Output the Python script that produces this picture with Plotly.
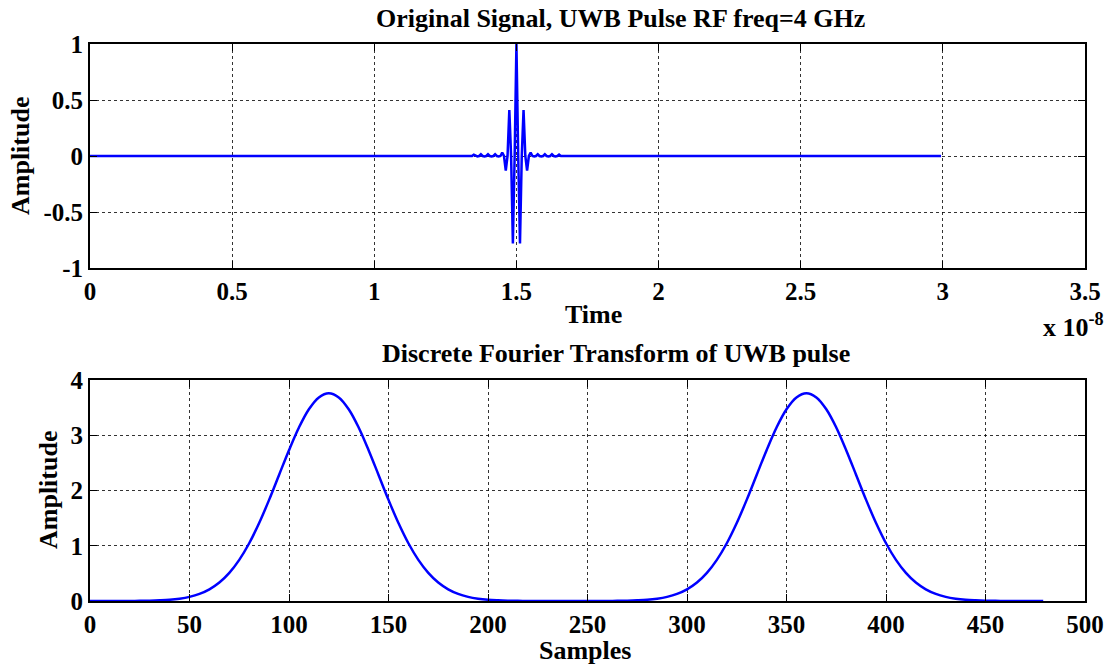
import plotly.graph_objects as go

# ---------------- data ----------------
# Top: UWB pulse samples (sample spacing 6.25e-11 s, 480 samples, centre sample 240)
dt = 6.25e-11
n_samples = 480
pulse_offsets = list(range(-26, 27))
pulse_values = [
    0.0, 0.0, 0.012, 0.0, -0.004, 0.0, 0.015, 0.0, -0.004, 0.0, 0.015, 0.0, -0.004, 0.0,
    0.015, 0.0, -0.004, 0.0, 0.03, 0.0, -0.13, 0.0, 0.41, 0.0, -0.78, 0.0,
    1.0,
    0.0, -0.78, 0.0, 0.41, 0.0, -0.13, 0.0, 0.03, 0.0, -0.004, 0.0, 0.015, 0.0,
    -0.004, 0.0, 0.015, 0.0, -0.004, 0.0, 0.015, 0.0, -0.004, 0.0, 0.012, 0.0, 0.0,
]
pulse_centre = 240

# Bottom: |DFT| of the pulse, read every 5 samples (0..475) plus the last sample 479
dft_samples = list(range(0, 480, 5)) + [479]
dft_values = [
    # n = 0 .. 240
    0.0, 0.0, 0.0, 0.0, 0.001, 0.003, 0.006, 0.012, 0.022, 0.042,
    0.075, 0.128, 0.211, 0.334, 0.509, 0.745, 1.045, 1.411, 1.830, 2.281,
    2.730, 3.141, 3.471, 3.685, 3.760, 3.685, 3.471, 3.141, 2.730, 2.281,
    1.830, 1.411, 1.045, 0.745, 0.509, 0.334, 0.211, 0.128, 0.075, 0.042,
    0.022, 0.012, 0.006, 0.003, 0.001, 0.0, 0.0, 0.0, 0.0,
    # n = 245 .. 475
    0.0, 0.0, 0.0, 0.001, 0.003, 0.006, 0.012, 0.022, 0.042,
    0.075, 0.128, 0.211, 0.334, 0.509, 0.745, 1.045, 1.411, 1.830, 2.281,
    2.730, 3.141, 3.471, 3.685, 3.760, 3.685, 3.471, 3.141, 2.730, 2.281,
    1.830, 1.411, 1.045, 0.745, 0.509, 0.334, 0.211, 0.128, 0.075, 0.042,
    0.022, 0.012, 0.006, 0.003, 0.001, 0.0, 0.0, 0.0,
    # n = 479
    0.0,
]

top_xticks = [0, 0.5e-8, 1.0e-8, 1.5e-8, 2.0e-8, 2.5e-8, 3.0e-8, 3.5e-8]
top_xtext = ["0", "0.5", "1", "1.5", "2", "2.5", "3", "3.5"]
top_yticks = [-1, -0.5, 0, 0.5, 1]
top_ytext = ["-1", "-0.5", "0", "0.5", "1"]
bot_xticks = [0, 50, 100, 150, 200, 250, 300, 350, 400, 450, 500]
bot_yticks = [0, 1, 2, 3, 4]

# ---------------- build series ----------------
t_idx = [0] + [pulse_centre + k for k in pulse_offsets] + [n_samples - 1]
t_vals = [0.0] + pulse_values + [0.0]
t = [i * dt for i in t_idx]

FONT = "Liberation Serif"
BLUE = "rgb(0,0,255)"

fig = go.Figure()
fig.add_trace(go.Scatter(x=t, y=t_vals, mode="lines",
                         line=dict(color=BLUE, width=2.5), xaxis="x", yaxis="y",
                         showlegend=False, hoverinfo="skip"))
fig.add_trace(go.Scatter(x=dft_samples, y=dft_values, mode="lines",
                         line=dict(color=BLUE, width=2.5, shape="spline", smoothing=1.0),
                         xaxis="x2", yaxis="y2", showlegend=False, hoverinfo="skip"))

W, H = 1115, 667
xd = [90 / W, 1085 / W]
top_dom = [1 - 268 / H, 1 - 44 / H]
bot_dom = [1 - 601 / H, 1 - 380 / H]

tickfont = dict(family=FONT, size=25, color="black", weight="bold")
common = dict(showline=True, linecolor="black", linewidth=1.8, mirror="ticks",
              ticks="inside", ticklen=7, tickcolor="black", tickwidth=1,
              showgrid=True, gridcolor="rgba(0,0,0,0.8)", griddash="dot", gridwidth=1,
              zeroline=False, tickfont=tickfont, automargin=False)

fig.update_layout(
    width=W, height=H, margin=dict(l=0, r=0, t=0, b=0, autoexpand=False),
    paper_bgcolor="white", plot_bgcolor="white",
    font=dict(family=FONT, size=25, color="black"),
    xaxis=dict(domain=xd, anchor="y", range=[0, 3.5e-8], tickvals=top_xticks, ticktext=top_xtext, **common),
    yaxis=dict(domain=top_dom, anchor="x", range=[-1, 1], tickvals=top_yticks, ticktext=top_ytext, **common),
    xaxis2=dict(domain=xd, anchor="y2", range=[0, 500], tickvals=bot_xticks, **common),
    yaxis2=dict(domain=bot_dom, anchor="x2", range=[0, 4], tickvals=bot_yticks, **common),
)

LBL = dict(family=FONT, size=26, color="black", weight="bold")


def label(text, x, y, angle=0):
    fig.add_annotation(text=text, xref="paper", yref="paper", x=x / W, y=1 - y / H,
                       showarrow=False, font=LBL, xanchor="center", yanchor="middle",
                       textangle=angle)


label("Original Signal, UWB Pulse RF freq=4 GHz", 620, 18)
label("Discrete Fourier Transform of UWB pulse", 616, 353)
label("Time", 593, 314)
label("Samples", 585, 650)
label("Amplitude", 20, 156, -90)
label("Amplitude", 48, 490, -90)
label("x 10<sup>-8</sup>", 1073, 325)

fig.write_html("out.html")
